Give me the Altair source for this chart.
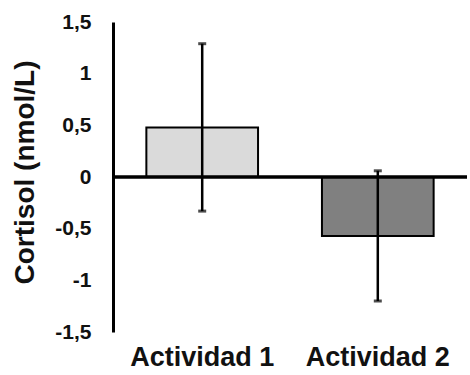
import altair as alt
import pandas as pd

# Change in cortisol per activity (mean and standard deviation, nmol/L)
categories = ["Actividad 1", "Actividad 2"]
means = [0.48, -0.57]
sds = [0.81, 0.63]
fills = ["#dadada", "#808080"]

df = pd.DataFrame({
    "actividad": categories,
    "media": means,
    "sd": sds,
    "fill": fills,
})
df["lo"] = df["media"] - df["sd"]
df["hi"] = df["media"] + df["sd"]

FONT = "Liberation Sans"
INK = "#111111"

x_enc = alt.X(
    "actividad:N",
    sort=categories,
    scale=alt.Scale(paddingInner=0.364, paddingOuter=0.19),
    axis=alt.Axis(
        title=None, domain=False, ticks=False, labelAngle=0,
        labelFont=FONT, labelFontSize=27, labelFontWeight="bold",
        labelColor=INK, labelPadding=12,
    ),
)

y_scale = alt.Scale(domain=[-1.5, 1.5], nice=False, zero=False)

base = alt.Chart(df)

bars = base.mark_bar(stroke="black", strokeWidth=2).encode(
    x=x_enc,
    y=alt.Y(
        "media:Q",
        scale=y_scale,
        axis=alt.Axis(
            title="Cortisol (nmol/L)",
            values=[-1.5, -1, -0.5, 0, 0.5, 1, 1.5],
            labelExpr="replace(toString(datum.value), '.', ',')",
            grid=False, ticks=False,
            domainColor="black", domainWidth=3,
            labelFont=FONT, labelFontSize=21, labelFontWeight="bold",
            labelColor=INK, labelPadding=22,
            titleFont=FONT, titleFontSize=28, titleFontWeight="bold",
            titleColor=INK, titleAngle=-90, titleAlign="center",
            titleBaseline="middle", titleX=-88, titleY=150,
        ),
    ),
    y2=alt.datum(0),
    fill=alt.Fill("fill:N", scale=None),
)

zero_line = base.mark_rule(color="black", strokeWidth=3).encode(
    y=alt.datum(0, scale=y_scale)
)

err = base.mark_rule(color="black", strokeWidth=2.5).encode(
    x=alt.X("actividad:N", sort=categories),
    y=alt.Y("lo:Q", scale=y_scale),
    y2="hi:Q",
)

cap_lo = base.mark_tick(color="black", size=8, thickness=3).encode(
    x=alt.X("actividad:N", sort=categories),
    y=alt.Y("lo:Q", scale=y_scale),
)
cap_hi = base.mark_tick(color="black", size=8, thickness=3).encode(
    x=alt.X("actividad:N", sort=categories),
    y=alt.Y("hi:Q", scale=y_scale),
)

chart = (
    alt.layer(bars, zero_line, err, cap_lo, cap_hi)
    .properties(
        width=354, height=310,
        padding={"left": 113, "top": 22, "right": 3, "bottom": 43},
        autosize="none",
        background="white",
    )
    .configure_view(stroke=None)
)

chart.save("out.html", embed_options={"renderer": "svg", "actions": False})
